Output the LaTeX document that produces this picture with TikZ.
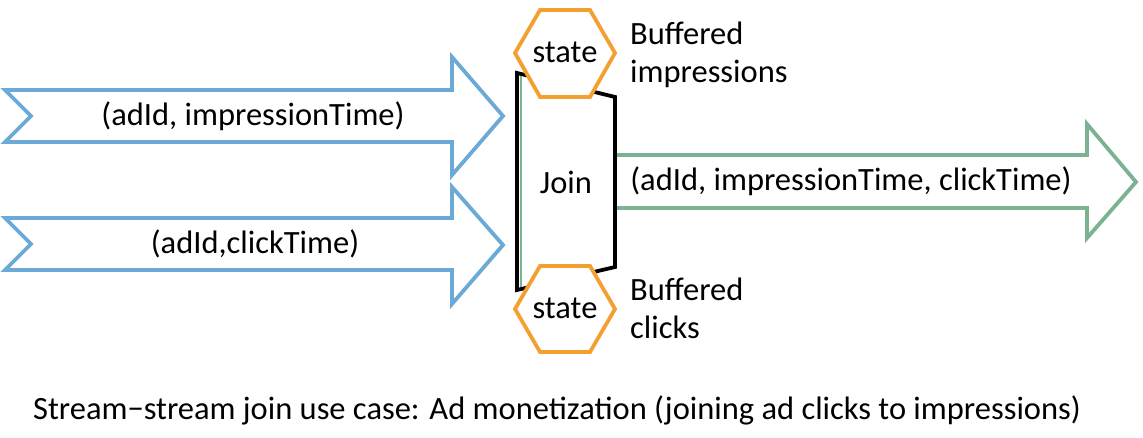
\documentclass[tikz,border=0pt]{standalone}
\usepackage{fontspec}
\setmainfont{Carlito}
\definecolor{arrblue}{RGB}{107,170,214}
\definecolor{arrgreen}{RGB}{122,178,146}
\definecolor{stateorange}{RGB}{244,160,48}
\begin{document}
\begin{tikzpicture}[x=1pt,y=-1pt,
  bluearrow/.style={draw=arrblue,line width=3.8pt,fill=white,line join=miter},
  greenarrow/.style={draw=arrgreen,line width=3.8pt,fill=white,line join=miter},
  joinbox/.style={draw=black,line width=3.8pt,fill=white,line join=miter},
  statehex/.style={draw=stateorange,line width=3.8pt,fill=white,line join=miter},
  txt/.style={font=\fontsize{32.5}{36}\selectfont,inner sep=0pt},
  lbl/.style={font=\fontsize{32.5}{38}\selectfont,inner sep=0pt,align=left,anchor=north west}]
\useasboundingbox (0,0) rectangle (1143,438);
% input arrows
\draw[bluearrow] (5,90) -- (452,90) -- (452,57) -- (503,116) -- (452,175) -- (452,142) -- (5,142) -- (31,116) -- cycle;
\draw[bluearrow] (5,218) -- (452,218) -- (452,187) -- (503,245) -- (452,304) -- (452,270) -- (5,270) -- (31,244) -- cycle;
\node[txt] (impr) at (253,116) {(adId, impressionTime)};
\node[txt] (click) at (255,244) {(adId,clickTime)};
% output arrow
\draw[greenarrow] (612,155) -- (1087,155) -- (1087,124) -- (1136,182) -- (1087,238) -- (1087,208) -- (612,208);
\node[txt] (out) at (851,181) {(adId, impressionTime, clickTime)};
% join box
\draw[joinbox] (517,73) -- (615,97) -- (615,267) -- (517,290) -- cycle;
\draw[arrgreen,line width=1.5pt] (521,76) -- (521,287);
\node[txt] (join) at (566,182) {Join};
% state hexagons
\draw[statehex] (515,53) -- (540,10) -- (590,10) -- (615,53) -- (590,97) -- (540,97) -- cycle;
\node[txt] (s1) at (565,52) {state};
\draw[statehex] (515,309) -- (540,266) -- (590,266) -- (615,309) -- (590,352) -- (540,352) -- cycle;
\node[txt] (s2) at (565,308) {state};
\node[lbl] (b1) at (630,22) {Buffered\\impressions};
\node[lbl] (b2) at (630,278) {Buffered\\clicks};
% caption
\node[txt] (cap) at (557,410) {Stream−stream join use case: Ad monetization (joining ad clicks to impressions)};
\end{tikzpicture}
\end{document}
